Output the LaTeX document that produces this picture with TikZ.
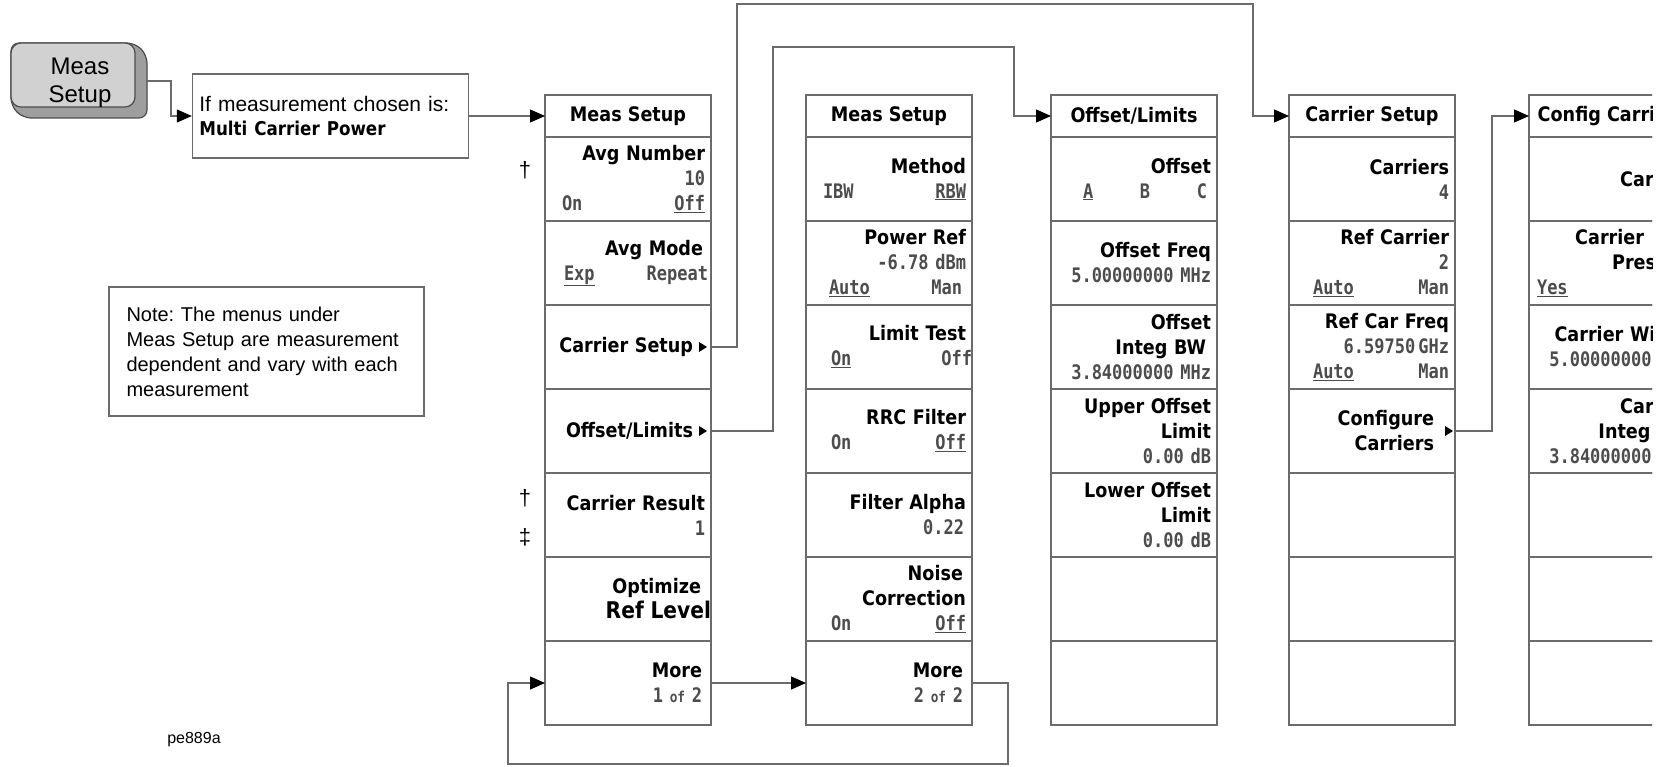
\documentclass[tikz,border=0pt]{standalone}
\usepackage{fontspec}
\setmainfont{Liberation Sans}
\newfontfamily\hpfont{DejaVu Sans}[FakeStretch=0.88]
\newfontfamily\hpmono{DejaVu Sans Mono}[FakeStretch=0.85]
\usetikzlibrary{positioning, arrows.meta, calc}
\frenchspacing

\definecolor{framegray}{gray}{0.42}
\definecolor{keylight}{gray}{0.82}
\definecolor{keydark}{gray}{0.62}
\definecolor{valgray}{gray}{0.3}

\newcommand{\lbl}{\hpfont\bfseries\fontsize{20}{25}\selectfont}
\newcommand{\val}{\hpmono\fontsize{20}{25}\selectfont\color{valgray}}
\newcommand{\sides}[3]{\hspace*{#1pt}#2\hfill#3}
\newcommand{\pad}[1]{\hspace*{#1pt}\mbox{}}

\begin{document}
\begin{tikzpicture}[
			x=1pt, y=-1pt,
			menuhead/.style={rectangle, draw=framegray, line width=1.3pt, minimum width=166pt, minimum height=42pt, inner sep=0pt, outer sep=0pt, font=\lbl},
			softkey/.style={rectangle, draw=framegray, line width=1.3pt, minimum width=166pt, minimum height=84pt, inner sep=0pt, outer sep=0pt, text width=154pt, align=right, font=\lbl},
			notebox/.style={rectangle, draw=framegray, line width=1.2pt, inner ysep=0pt, align=left},
			dagmark/.style={font=\fontsize{22}{22}\selectfont},
			link/.style={draw=framegray, line width=1.2pt, -{Triangle[length=15pt, width=13pt, color=black]}}
			]
			\useasboundingbox (0,0) rectangle (1665,767);
			\fill[white] (0,0) rectangle (1665,767);
			\clip (0,0) rectangle (1652,767);
			
			% Menu 1
			\node[menuhead] (ms) at (628,116) {Meas Setup};
			\node[softkey, below=0pt of ms] (ms1) {Avg Number\\{\val 10}\\{\val\sides{11}{On}{\underline{Off}}}};
			\node[softkey, below=0pt of ms1] (ms2) {Avg Mode\pad{2}\\{\val\sides{13}{\underline{Exp}}{Repeat\pad{-3}}}};
			\node[softkey, below=0pt of ms2] (ms3) {Carrier Setup\pad{12}};
			\node[softkey, below=0pt of ms3] (ms4) {Offset/Limits\pad{12}};
			\node[softkey, below=0pt of ms4] (ms5) {Carrier Result\\{\val 1}};
			\node[softkey, below=0pt of ms5] (ms6) {Optimize\pad{4}\\{\fontsize{23}{25}\selectfont Ref Level\pad{-6}}};
			\node[softkey, below=0pt of ms6] (ms7) {More\pad{3}\\{\val 1 {\fontsize{15}{25}\selectfont of} 2\pad{3}}};
			
			% Menu 2
			\node[menuhead, right=95pt of ms] (mm) {Meas Setup};
			\node[softkey, below=0pt of mm] (mm1) {Method\\{\val\sides{11}{IBW}{\underline{RBW}}}};
			\node[softkey, below=0pt of mm1] (mm2) {Power Ref\\{\val -6.78 dBm}\\{\val\sides{17}{\underline{Auto}}{Man\pad{4}}}};
			\node[softkey, below=0pt of mm2] (mm3) {Limit Test\\{\val\sides{19}{\underline{On}}{Off\pad{-6}}}};
			\node[softkey, below=0pt of mm3] (mm4) {RRC Filter\\{\val\sides{19}{On}{\underline{Off}}}};
			\node[softkey, below=0pt of mm4] (mm5) {Filter Alpha\\{\val 0.22\pad{2}}};
			\node[softkey, below=0pt of mm5] (mm6) {Noise\pad{3}\\Correction\\{\val\sides{19}{On}{\underline{Off}}}};
			\node[softkey, below=0pt of mm6] (mm7) {More\pad{3}\\{\val 2 {\fontsize{15}{25}\selectfont of} 2\pad{3}}};
			
			% Menu 3
			\node[menuhead, right=79pt of mm] (ol) {Offset/Limits};
			\node[softkey, below=0pt of ol] (ol1) {Offset\\{\val\hspace*{26pt}\underline{A}\hfill B\hfill C\pad{4}}};
			\node[softkey, below=0pt of ol1] (ol2) {Offset Freq\\{\val 5.00000000 MHz}};
			\node[softkey, below=0pt of ol2] (ol3) {Offset\\Integ BW\pad{5}\\{\val 3.84000000 MHz}};
			\node[softkey, below=0pt of ol3] (ol4) {Upper Offset\\Limit\\{\val 0.00 dB}};
			\node[softkey, below=0pt of ol4] (ol5) {Lower Offset\\Limit\\{\val 0.00 dB}};
			\node[softkey, below=0pt of ol5] (ol6) {};
			\node[softkey, below=0pt of ol6] (ol7) {};
			
			% Menu 4
			\node[menuhead, right=72pt of ol] (cs) {Carrier Setup};
			\node[softkey, below=0pt of cs] (cs1) {Carriers\\{\val 4}};
			\node[softkey, below=0pt of cs1] (cs2) {Ref Carrier\\{\val 2}\\{\val\sides{18}{\underline{Auto}}{Man}}};
			\node[softkey, below=0pt of cs2] (cs3) {Ref Car Freq\\{\val 6.59750\hspace{3pt}GHz}\\{\val\sides{18}{\underline{Auto}}{Man}}};
			\node[softkey, below=0pt of cs3] (cs4) {Configure\pad{15}\\Carriers\pad{15}};
			\node[softkey, below=0pt of cs4] (cs5) {};
			\node[softkey, below=0pt of cs5] (cs6) {};
			\node[softkey, below=0pt of cs6] (cs7) {};
			
			% Menu 5 (cut off at the right)
			\node[menuhead, right=74pt of cs] (cc) {Config Carriers};
			\node[softkey, below=0pt of cc] (cc1) {Carrier};
			\node[softkey, below=0pt of cc1] (cc2) {Carrier\pad{45}\\Present\\{\val\sides{2}{\underline{Yes}}{}}};
			\node[softkey, below=0pt of cc2] (cc3) {Carrier Width\\{\val 5.00000000 MHz}};
			\node[softkey, below=0pt of cc3] (cc4) {Carrier\\Integ BW\\{\val 3.84000000 MHz}};
			\node[softkey, below=0pt of cc4] (cc5) {};
			\node[softkey, below=0pt of cc5] (cc6) {};
			\node[softkey, below=0pt of cc6] (cc7) {};
			
			% Submenu markers
			\fill (ms3.east) ++(-4,0) -- ++(-8,-5) -- ++(0,10) -- cycle;
			\fill (ms4.east) ++(-4,0) -- ++(-8,-5) -- ++(0,10) -- cycle;
			\fill (cs4.east) ++(-2,0) -- ++(-8,-5) -- ++(0,10) -- cycle;
			
			% Hardkey and condition
			\fill[keydark, draw=black!70, line width=1.2pt, rounded corners=8pt] (11,43) -- (135,43) -- (147,55) -- (147,118) -- (23,118) -- (11,106) -- cycle;
			\node[rectangle, rounded corners=10pt, draw=black!70, line width=1.2pt, fill=keylight, minimum width=124pt, minimum height=64pt] (key) at (73,75) {};
			\node[align=center, font=\fontsize{24}{28}\selectfont] (keylbl) at ($(key.center)+(7,8)$) {Meas\\Setup};
			\coordinate (keyout) at (147,81);
			\node[notebox, minimum width=276pt, minimum height=84pt, text width=262pt, inner xsep=7pt, font=\fontsize{21}{24}\selectfont, left=76pt of ms] (cond) {If measurement chosen is:\\{\lbl\fontsize{19}{24}\selectfont Multi Carrier Power}};
			
			% Note and marks
			\node[notebox, minimum width=315pt, minimum height=129pt, text width=280pt, inner xsep=17.5pt, font=\fontsize{20}{25}\selectfont] (note) at (266.5,351.5) {Note: The menus under\\Meas Setup are measurement\\dependent and vary with each\\measurement};
			\node[dagmark] (dag1) at (525,170) {†};
			\node[dagmark] (dag2) at (525,498) {†};
			\node[dagmark] (dag3) at (525,537) {‡};
			\node[font=\fontsize{16}{16}\selectfont] (tag) at (194,740) {pe889a};
			
			% Connections
			\draw[link] (keyout) -- ++(24,0) |- (cond.west);
			\draw[link] (cond.east) -- (ms.west);
			
			\coordinate (hopcs) at (1253,4);
			\draw[link] (ms3.east) -- ++(26,0) |- (hopcs) |- (cs.west);
			\coordinate (hopol) at (1014,47);
			\draw[link] (ms4.east) -- ++(62,0) |- (hopol) |- (ol.west);
			
			\draw[link] (ms7.east) -- (mm7.west);
			\coordinate (loopbot) at (508,764);
			\draw[link] (mm7.east) -- ++(36,0) |- (loopbot) |- (ms7.west);
			
			\draw[link] (cs4.east) -- ++(37,0) |- (cc.west);
			
		\end{tikzpicture}
\end{document}
